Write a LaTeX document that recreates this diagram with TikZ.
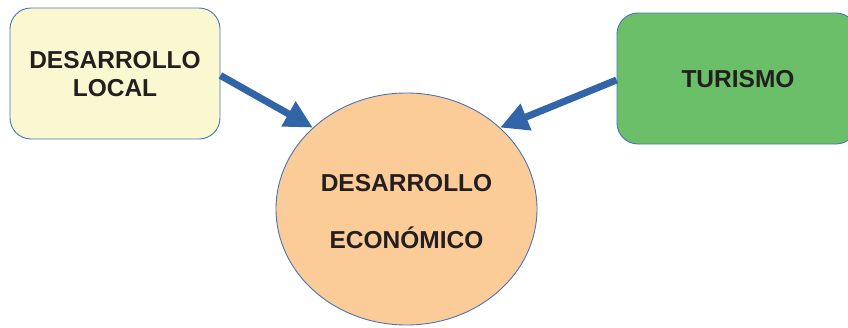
\documentclass[tikz,border=0pt]{standalone}
\usepackage{fontspec}
\setmainfont{Liberation Sans}
\usetikzlibrary{shapes.geometric,arrows.meta}
\definecolor{bordblue}{HTML}{4A74B8}
\definecolor{arrblue}{HTML}{3264A8}
\definecolor{yelfill}{HTML}{FAF8D0}
\definecolor{grnfill}{HTML}{6BBF68}
\definecolor{orgfill}{HTML}{FBCB98}
\definecolor{txt}{HTML}{231F20}
\tikzset{
  lbl/.style={font=\fontsize{24.5}{28}\selectfont\bfseries, text=txt, align=center},
  rbox/.style={draw=bordblue, line width=0.9pt, rounded corners=21pt, inner sep=0pt},
  conn/.style={draw=arrblue, line width=7pt, -{Triangle[length=28pt,width=27pt]}}
}
\begin{document}
\begin{tikzpicture}[x=1pt,y=-1pt]
\useasboundingbox (0,0) rectangle (848,327);
\node[rbox, fill=yelfill, minimum width=210pt, minimum height=131pt] (dl) at (115,73.5) {};
\node[lbl] at (115,74.5) {DESARROLLO\\LOCAL};
\node[rbox, fill=grnfill, minimum width=240pt, minimum height=131pt] (tu) at (737,78.5) {};
\node[lbl] at (738,79) {TURISMO};
\node[ellipse, draw=bordblue, line width=0.9pt, fill=orgfill, minimum width=261pt, minimum height=232pt, inner sep=0pt] (de) at (406.5,209) {};
\node[lbl] at (406.5,212) {DESARROLLO\\[29pt]ECONÓMICO};
\draw[conn] ([yshift=-2pt]dl.east) -- (de.139);
\draw[conn] ([yshift=-1.5pt]tu.west) -- (de.41.5);
\end{tikzpicture}
\end{document}
